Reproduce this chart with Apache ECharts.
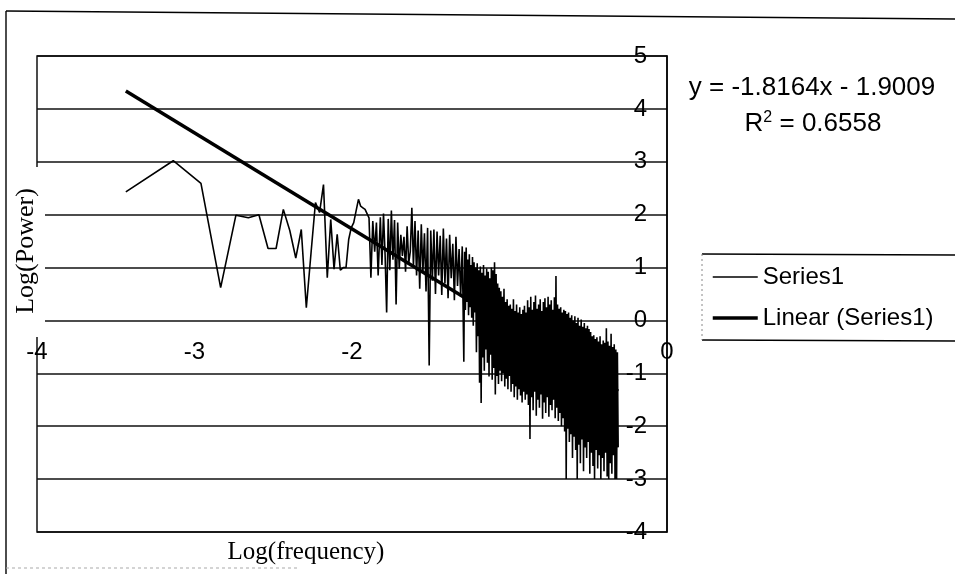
<!DOCTYPE html>
<html>
<head>
<meta charset="utf-8">
<script src="https://cdn.jsdelivr.net/npm/echarts@6.0.0/dist/echarts.min.js"></script>
<style>
html,body{margin:0;padding:0;background:#fff;}
#chart{width:955px;height:574px;}
</style>
</head>
<body>
<div id="chart"></div>
<script>
// ---- data ----
const xTicks = [-4, -3, -2, -1, 0];
const yTicks = [5, 4, 3, 2, 1, 0, -1, -2, -3, -4];

const freqLog = [
  -3.436,-3.135,-2.959,-2.834,-2.737,-2.658,-2.591,-2.533,-2.482,-2.436,
  -2.395,-2.357,-2.322,-2.290,-2.260,-2.232,-2.206,-2.181,-2.157,-2.135,
  -2.114,-2.094,-2.074,-2.056,-2.038,-2.021,-2.005,-1.989,-1.974,-1.959,
  -1.945,-1.931,-1.917,-1.905,-1.892,-1.880,-1.868,-1.856,-1.845,-1.834,
  -1.82,-1.81,-1.80,-1.79,-1.78,-1.77,-1.76,-1.75,-1.74,-1.73,
  -1.72,-1.71,-1.70,-1.69,-1.68,-1.67,-1.66,-1.65,-1.64,-1.63,
  -1.62,-1.61,-1.60,-1.59,-1.58,-1.57,-1.56,-1.55,-1.54,-1.53,
  -1.52,-1.51,-1.50,-1.49,-1.48,-1.47,-1.46,-1.45,-1.44,-1.43,
  -1.42,-1.41,-1.40,-1.39,-1.38,-1.37,-1.36,-1.35,-1.34,-1.33,
  -1.32,-1.31,-1.30,
  -1.295,-1.290,-1.285,-1.280,-1.275,-1.270,-1.265,-1.260,-1.255,-1.250,
  -1.245,-1.240,-1.235,-1.230,-1.225,-1.220,-1.215,-1.210,-1.205,-1.200,
  -1.195,-1.190,-1.185,-1.180,-1.175,-1.170,-1.165,-1.160,-1.155,-1.150,
  -1.145,-1.140,-1.135,-1.130,-1.125,-1.120,-1.115,-1.110,-1.105,-1.100,
  -1.095,-1.090,-1.085,-1.080,-1.075,-1.070,-1.065,-1.060,-1.055,-1.050,
  -1.045,-1.040,-1.035,-1.030,-1.025,-1.020,-1.015,-1.010,-1.005,-1.000,
  -0.995,-0.990,-0.985,-0.980,-0.975,-0.970,-0.965,-0.960,-0.955,-0.950,
  -0.945,-0.940,-0.935,-0.930,-0.925,-0.920,-0.915,-0.910,-0.905,-0.900,
  -0.895,-0.890,-0.885,-0.880,-0.875,-0.870,-0.865,-0.860,-0.855,-0.850,
  -0.845,-0.840,-0.835,-0.830,-0.825,-0.820,-0.815,-0.810,-0.805,-0.800,
  -0.795,-0.790,-0.785,-0.780,-0.775,-0.770,-0.765,-0.760,-0.755,-0.750,
  -0.745,-0.740,-0.735,-0.730,-0.725,-0.720,-0.715,-0.710,-0.705,-0.700,
  -0.695,-0.690,-0.685,-0.680,-0.675,-0.670,-0.665,-0.660,-0.655,-0.650,
  -0.645,-0.640,-0.635,-0.630,-0.625,-0.620,-0.615,-0.610,-0.605,-0.600,
  -0.595,-0.590,-0.585,-0.580,-0.575,-0.570,-0.565,-0.560,-0.555,-0.550,
  -0.545,-0.540,-0.535,-0.530,-0.525,-0.520,-0.515,-0.510,-0.505,-0.500,
  -0.495,-0.490,-0.485,-0.480,-0.475,-0.470,-0.465,-0.460,-0.455,-0.450,
  -0.445,-0.440,-0.435,-0.430,-0.425,-0.420,-0.415,-0.410,-0.405,-0.400,
  -0.395,-0.390,-0.385,-0.380,-0.375,-0.370,-0.365,-0.360,-0.355,-0.350,
  -0.345,-0.340,-0.335,-0.330,-0.325,-0.320,-0.315,-0.310
];

const powerLog = [
  2.43,3.02,2.59,0.62,1.99,1.94,2.00,1.36,1.36,2.10,
  1.70,1.18,1.72,0.24,1.28,2.23,2.04,2.57,0.81,1.91,
  0.97,1.63,0.95,1.00,1.00,1.53,1.75,1.85,2.07,2.29,
  2.16,2.13,2.10,2.07,1.94,0.81,1.88,1.30,1.85,0.85,
  1.95,1.05,2.02,1.25,0.15,1.92,0.95,2.08,1.15,1.90,
  0.30,1.85,0.98,1.62,1.22,1.58,0.92,1.78,1.08,1.30,
  2.13,1.02,1.88,0.85,1.70,0.60,1.82,0.90,1.65,0.55,
  1.75,-0.85,1.70,0.75,1.72,0.50,1.68,0.85,1.60,0.48,
  1.74,0.70,1.55,0.42,1.62,0.80,1.45,0.38,1.58,0.65,
  1.35,0.45,1.40,
  0.30,-0.78,1.30,0.20,1.38,0.35,1.15,0.10,1.25,0.25,
  1.05,0.05,1.20,-0.10,1.10,0.15,1.00,-0.60,1.08,-0.30,
  0.95,-1.18,1.02,-1.56,0.90,-0.70,1.05,-0.95,0.85,-0.55,
  0.98,-0.80,0.92,-1.06,0.80,-0.65,1.00,-1.12,0.95,-0.90,
  1.10,-1.40,0.88,-1.05,0.70,-1.20,0.62,-0.95,0.55,-1.15,
  0.45,-1.00,0.60,-1.25,0.35,-1.10,0.40,-1.30,0.28,-1.05,
  0.30,-1.35,0.22,-1.20,0.40,-1.45,0.18,-1.25,0.30,-1.50,
  0.15,-1.30,0.25,-1.42,0.12,-1.55,0.20,-1.35,0.28,-1.50,
  0.15,-1.40,0.38,-1.60,0.25,-2.24,0.45,-1.45,0.20,-1.70,
  0.35,-1.35,0.47,-1.80,0.22,-1.50,0.30,-1.65,0.40,-1.40,
  0.18,-1.86,0.35,-1.55,0.42,-1.75,0.25,-1.45,0.45,-1.82,
  0.30,-1.60,0.38,-1.70,0.20,-1.50,0.44,-1.85,0.84,-1.65,
  0.30,-1.90,0.22,-1.75,0.25,-2.00,0.15,-1.85,0.20,-2.10,
  0.18,-3.00,0.12,-2.05,0.15,-2.30,0.05,-2.15,0.10,-2.60,
  0.00,-2.20,0.08,-2.45,-0.05,-3.00,0.05,-2.35,-0.10,-2.70,
  0.02,-2.25,-0.12,-2.85,-0.05,-2.40,-0.15,-2.60,-0.10,-2.30,
  -0.16,-2.90,-0.22,-2.50,-0.30,-2.75,-0.28,-3.00,-0.35,-2.45,
  -0.32,-2.80,-0.40,-2.55,-0.30,-3.00,-0.45,-2.60,-0.38,-2.85,
  -0.42,-2.50,-0.15,-2.95,-0.40,-3.00,-0.48,-2.70,-0.25,-2.90,
  -0.50,-2.55,-0.45,-3.00,-0.55,-3.00,-0.60,-2.40
];

// trendline end points (Excel linear trendline)
const trendFreqLog = [-3.436, -0.31];
const trendPowerLog = [4.34, -1.34];

const seriesNames = ['Series1', 'Linear (Series1)'];
const trendEquation = 'y = -1.8164x - 1.9009';
const trendR2 = '0.6558';
const xTitle = 'Log(frequency)';
const yTitle = 'Log(Power)';

// ---- chart ----
const seriesData = freqLog.map((x, i) => [x, powerLog[i]]);
const trendData = trendFreqLog.map((x, i) => [x, trendPowerLog[i]]);

const chart = echarts.init(document.getElementById('chart'), null, {renderer: 'canvas'});
const sans = 'Liberation Sans, Arial, sans-serif';
const serif = 'Liberation Serif, Times New Roman, serif';

const gridTop = 56, gridBottom = 42, chartH = 574;
const yMin = Math.min(...yTicks), yMax = Math.max(...yTicks);
// distance from the plot bottom up to the value-0 line
const zeroLift = (chartH - gridTop - gridBottom) * (0 - yMin) / (yMax - yMin);

const dataLineWidth = 1.6;
const trendLineWidth = 3.5;

chart.setOption({
  animation: false,
  backgroundColor: '#fff',
  grid: {
    left: 37, right: 288, top: gridTop, bottom: gridBottom,
    containLabel: false,
    outerBoundsMode: 'none',
    show: true,
    borderColor: '#000',
    borderWidth: 1.4,
    backgroundColor: 'transparent'
  },
  xAxis: {
    type: 'value',
    min: Math.min(...xTicks),
    max: Math.max(...xTicks),
    interval: 1,
    offset: -zeroLift,
    axisLine: {show: false, onZero: false},
    axisTick: {show: false},
    splitLine: {show: false},
    axisLabel: {margin: 20, fontSize: 24, color: '#000', fontFamily: sans}
  },
  yAxis: {
    type: 'value',
    position: 'right',
    min: yMin,
    max: yMax,
    interval: 1,
    axisLine: {show: true, onZero: false, lineStyle: {color: '#000', width: 1.5}},
    axisTick: {show: false},
    splitLine: {show: true, lineStyle: {color: '#111', width: 1.5}},
    axisLabel: {inside: true, margin: 20, fontSize: 24, color: '#000', fontFamily: sans}
  },
  legend: {
    data: [
      {name: seriesNames[0], lineStyle: {width: dataLineWidth, color: '#000'}},
      {name: seriesNames[1], lineStyle: {width: trendLineWidth, color: '#000'}}
    ],
    orient: 'vertical',
    left: 711,
    top: 265,
    padding: 0,
    itemWidth: 45,
    itemHeight: 14,
    itemGap: 17,
    itemStyle: {color: 'rgba(0,0,0,0)', borderColor: 'rgba(0,0,0,0)', borderWidth: 0, opacity: 0},
    textStyle: {fontSize: 24, lineHeight: 24, color: '#000', fontFamily: sans}
  },
  series: [
    {
      name: seriesNames[0],
      type: 'line',
      data: seriesData,
      symbol: 'none',
      showSymbol: false,
      z: 3,
      lineStyle: {color: '#000', width: dataLineWidth},
      itemStyle: {color: '#000'}
    },
    {
      name: seriesNames[1],
      type: 'line',
      data: trendData,
      symbol: 'none',
      showSymbol: false,
      z: 4,
      lineStyle: {color: '#000', width: trendLineWidth},
      itemStyle: {color: '#000'}
    }
  ],
  graphic: [
    // outer chart frame (top and left edges visible in the scan)
    {type: 'line', z: 100, shape: {x1: 6, y1: 11, x2: 955, y2: 19}, style: {stroke: '#000', lineWidth: 1.6}},
    {type: 'line', z: 100, shape: {x1: 6, y1: 11, x2: 6, y2: 574}, style: {stroke: '#000', lineWidth: 1.4}},
    {type: 'line', z: 100, shape: {x1: 6, y1: 568, x2: 300, y2: 568}, style: {stroke: '#aaa', lineWidth: 1, lineDash: [3, 3]}},
    // legend frame
    {type: 'line', z: 100, shape: {x1: 702, y1: 254, x2: 955, y2: 255}, style: {stroke: '#000', lineWidth: 1.4}},
    {type: 'line', z: 100, shape: {x1: 702, y1: 340, x2: 955, y2: 341}, style: {stroke: '#000', lineWidth: 1.4}},
    {type: 'line', z: 100, shape: {x1: 702, y1: 254, x2: 702, y2: 340}, style: {stroke: '#888', lineWidth: 1, lineDash: [2, 3]}},
    // trendline label
    {
      type: 'text', z: 100, x: 812, y: 88,
      style: {text: trendEquation, fontSize: 26, fontFamily: sans, fill: '#000', align: 'center', verticalAlign: 'middle'}
    },
    {
      type: 'text', z: 100, x: 813, y: 124,
      style: {
        text: 'R{sup|2} = ' + trendR2,
        fontSize: 26, fontFamily: sans, fill: '#000', align: 'center', verticalAlign: 'middle',
        rich: {sup: {fontSize: 16, fontFamily: sans, fill: '#000', verticalAlign: 'top', padding: [0, 0, 12, 0]}}
      }
    },
    // white patch behind the y title (hides the frame like the original)
    {type: 'rect', z: 90, shape: {x: 8, y: 167, width: 37, height: 170}, style: {fill: '#fff'}},
    {
      type: 'text', z: 100, x: 26, y: 251, rotation: Math.PI / 2,
      style: {text: yTitle, fontSize: 26, fontFamily: serif, fill: '#000', align: 'center', verticalAlign: 'middle'}
    },
    {
      type: 'text', z: 100, x: 306, y: 552,
      style: {text: xTitle, fontSize: 25, fontFamily: serif, fill: '#000', align: 'center', verticalAlign: 'middle'}
    }
  ]
});
</script>
</body>
</html>
